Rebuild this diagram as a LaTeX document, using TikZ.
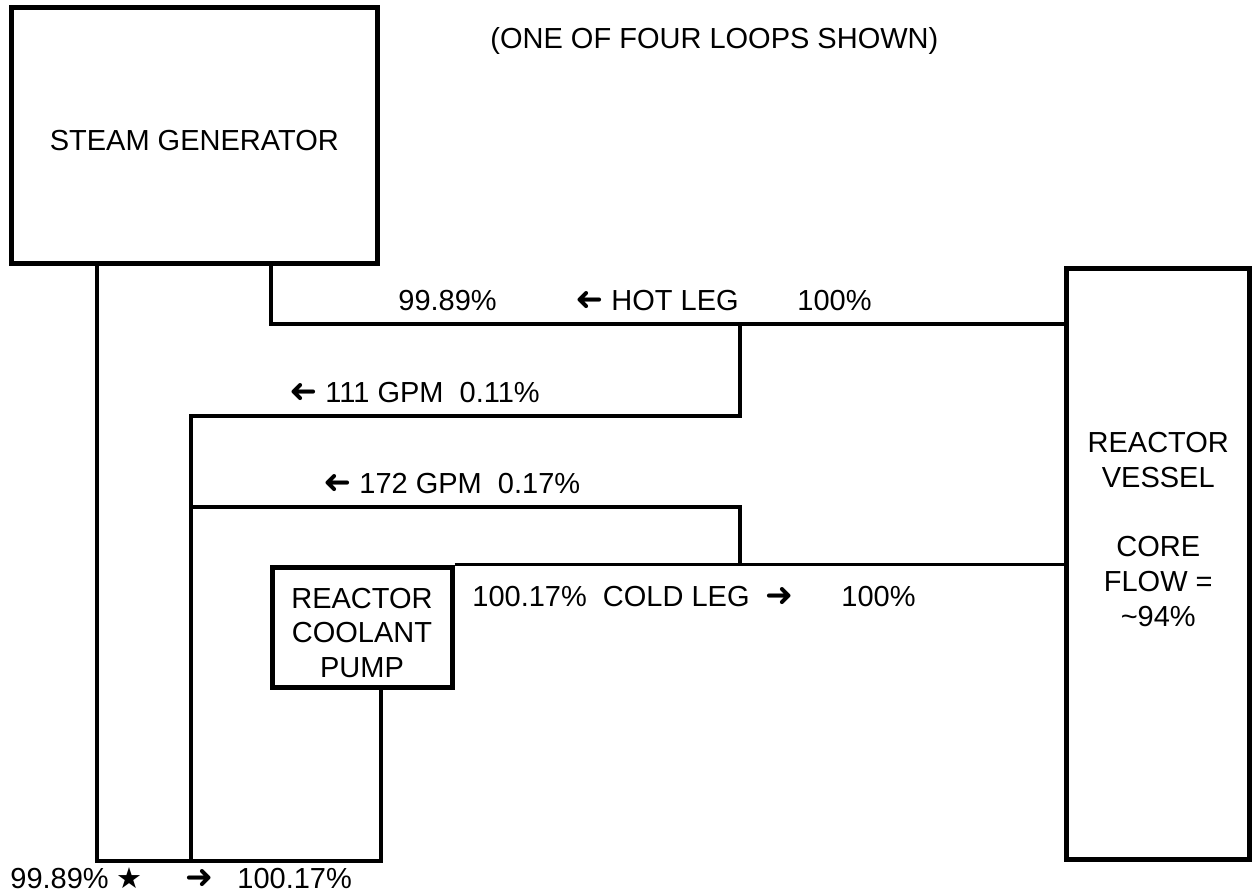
\documentclass[tikz,border=0pt]{standalone}
\usepackage{fontspec}
\setmainfont{Liberation Sans}
\newfontfamily\dejavu{DejaVu Sans}
\usepackage{graphicx}
\newcommand{\rarr}{\scalebox{1.15}{\dejavu\bfseries ➜}}
\newcommand{\larr}{\reflectbox{\scalebox{1.15}{\dejavu\bfseries ➜}}}
\newcommand{\fstar}{{\dejavu ★}}
\begin{document}
\begin{tikzpicture}[x=0.5pt,y=-0.5pt,
  txt/.style={inner sep=0pt,align=center,font=\fontsize{14.5}{17.4}\selectfont},
  box/.style={draw,line width=2.5pt,inner sep=0pt},
  pipe/.style={line width=1.6pt},
  lbl/.style={inner sep=0pt,anchor=base west,font=\fontsize{14.5}{17.4}\selectfont}]
\useasboundingbox (0,0) rectangle (1252,894);
\fill[white] (0,0) rectangle (1252,894);

% equipment
\node[box,minimum width=182.75pt,minimum height=127.75pt,
  label={[txt,yshift=-2.5pt]center:STEAM GENERATOR}] (SG) at (194.25,135.25) {};
\node[box,minimum width=91.5pt,minimum height=295.5pt,
  label={[txt,yshift=17pt]center:REACTOR\\VESSEL\\[17.4pt]CORE\\FLOW =\\\textasciitilde94\%}] (RV) at (1158.25,563.5) {};
\node[box,minimum width=90pt,minimum height=60pt,
  label={[txt,yshift=-3pt]center:REACTOR\\COOLANT\\PUMP}] (RCP) at (362,627) {};

% junction coordinates
\coordinate (hotx) at (271,0);
\coordinate (leftx) at (97,0);
\coordinate (hjunc) at (740,324);
\coordinate (cjunc) at (740,565);
\coordinate (b1) at (191,416);
\coordinate (b2) at (191,507);
\coordinate (bm) at (191,861);
\coordinate (bl) at (97,861);
\coordinate (br) at (381,861);

% piping
\draw[pipe] (SG.south -| hotx) |- (RV.west |- hjunc);
\draw[pipe] (hjunc) |- (b1) -- (bm);
\draw[pipe] (cjunc) |- (b2);
\draw[pipe] (RCP.north east) -- (RV.west |- RCP.north east);
\draw[pipe] (SG.south -| leftx) -- (bl) -- (br) -- (RCP.south -| br);

% labels
\node[lbl] (t0) at (490,48) {(ONE OF FOUR LOOPS SHOWN)};
\node[lbl] (h1) at (398,310) {99.89\%};
\node[lbl] (h2) at (575,310) {\larr\ HOT LEG};
\node[lbl] (h3) at (797,310) {100\%};
\node[lbl] (g1) at (289,402) {\larr\ 111 GPM\ \ 0.11\%};
\node[lbl] (g2) at (323,493) {\larr\ 172 GPM\ \ 0.17\%};
\node[lbl] (c1) at (472,606) {100.17\%\ \ COLD LEG\ \ \rarr};
\node[lbl] (c2) at (841,606) {100\%};
\node[lbl] (bt1) at (10,888) {99.89\% \fstar};
\node[lbl] (bt2) at (185,888) {\rarr};
\node[lbl] (bt3) at (237,888) {100.17\%};
\end{tikzpicture}
\end{document}
